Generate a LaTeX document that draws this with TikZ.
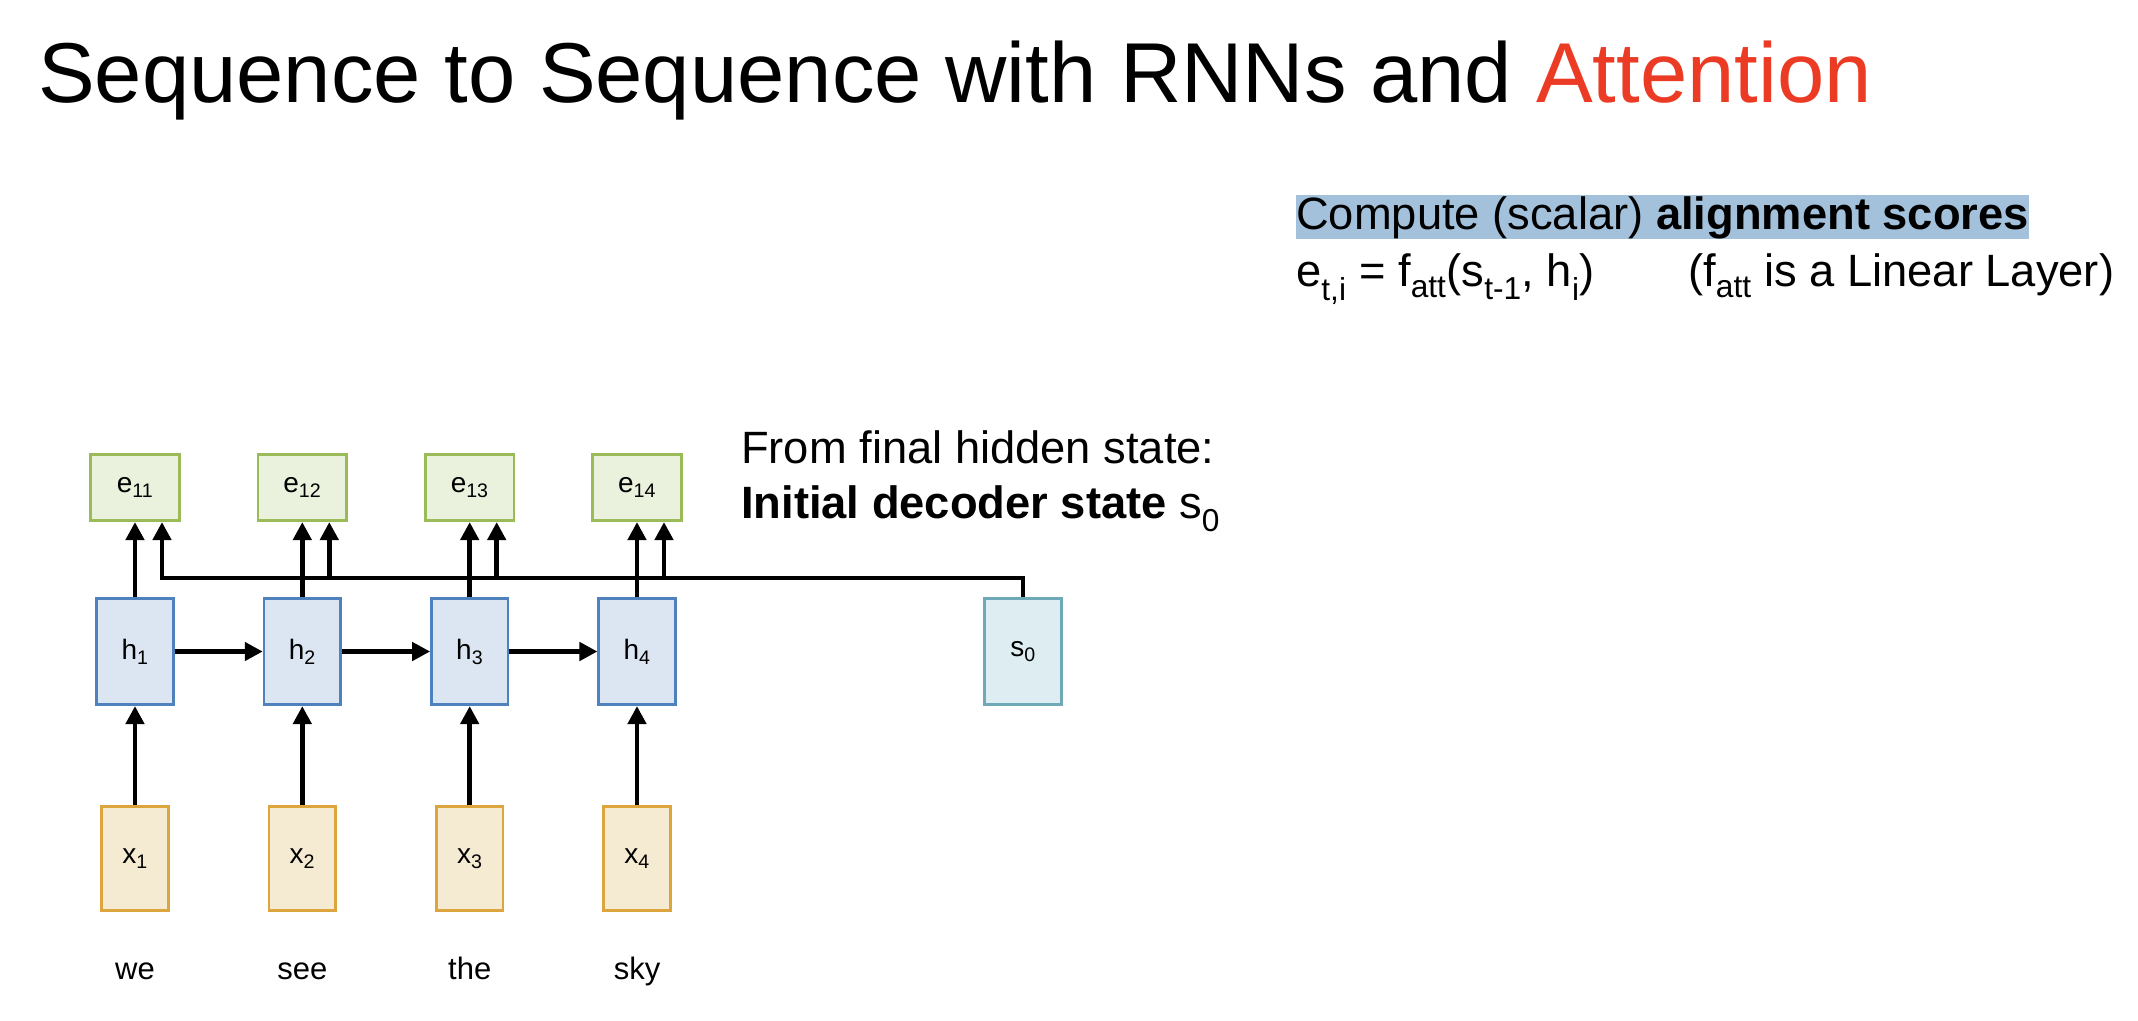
\documentclass[tikz,border=0pt]{standalone}
\usepackage{fontspec}
\setmainfont{Liberation Sans}
\usetikzlibrary{arrows.meta}

\definecolor{egreen}{HTML}{9BBB59}
\definecolor{efill}{HTML}{EAF1DD}
\definecolor{hblue}{HTML}{4F81BD}
\definecolor{hfill}{HTML}{DCE6F2}
\definecolor{steal}{HTML}{6FA9B8}
\definecolor{sfill}{HTML}{DDEDF2}
\definecolor{xgold}{HTML}{DDA53D}
\definecolor{xfill}{HTML}{F5EBD3}
\definecolor{hilite}{HTML}{A3C1DB}
\definecolor{attred}{HTML}{EB3B24}

\newcommand\lsub[1]{\textsubscript{#1}}

\begin{document}
\begin{tikzpicture}[x=1pt,y=-1pt,
  box/.style={draw, line width=2.6pt, inner sep=0pt, font=\fontsize{28}{33}\selectfont},
  ebox/.style={box, draw=egreen, fill=efill, minimum width=88.5pt, minimum height=66.5pt},
  hbox/.style={box, draw=hblue, fill=hfill, minimum width=76.5pt, minimum height=106.5pt},
  sbox/.style={box, draw=steal, fill=sfill, minimum width=76.5pt, minimum height=106.5pt},
  xbox/.style={box, draw=xgold, fill=xfill, minimum width=66.5pt, minimum height=104.5pt},
  arr/.style={line width=4.8pt, -{Triangle[length=18pt,width=18pt]}},
  word/.style={anchor=base, inner sep=0pt, font=\fontsize{31}{36}\selectfont},
  txt/.style={anchor=base west, inner sep=0pt, font=\fontsize{45.3}{54}\selectfont}]

% page
\fill[white] (0,0) rectangle (2138,1020);
\useasboundingbox (0,0) rectangle (2138,1020);

% heading
\node[anchor=base west, inner sep=0pt, font=\fontsize{85}{100}\selectfont] (title) at (38,102)
  {Sequence to Sequence with RNNs and \textcolor{attred}{Attention}};

% alignment score definition
\node[txt, fill=hilite, inner ysep=2pt, text height=32pt, text depth=8pt] (score) at (1296,229)
  {Compute (scalar) \textbf{alignment scores}};
\node[txt] (eq) at (1296,286) {e\lsub{t,i} = f\lsub{att}(s\lsub{t-1}, h\lsub{i})};
\node[txt] (fatt) at (1688,286) {(f\lsub{att} is a Linear Layer)};

% decoder initial state note
\node[txt] (from) at (741,463) {From final hidden state:};
\node[txt] (init) at (741,518) {\textbf{Initial decoder state} s\lsub{0}};

% encoder columns
\foreach \i/\xx/\w in {1/135/we, 2/302.3/see, 3/469.7/the, 4/637/sky} {
  \node[ebox] (e\i) at (\xx,487.5) {e\lsub{1\i}};
  \node[hbox] (h\i) at (\xx,651.5) {h\lsub{\i}};
  \node[xbox] (x\i) at (\xx,858.5) {x\lsub{\i}};
  \node[word] (w\i) at (\xx,979) {\w};
  \coordinate (j\i) at (\xx+27,578);
}

% decoder state
\node[sbox] (s0) at (1023,651.5) {s\lsub{0}};

% connections
\foreach \i in {1,...,4} {
  \draw[arr] (x\i) -- (h\i);
  \draw[arr] (h\i) -- (e\i);
}
\foreach \i/\k in {1/2, 2/3, 3/4} {
  \draw[arr] (h\i) -- (h\k);
}
\draw[arr] (s0.north) |- (j1) -- (j1 |- e1.south);
\foreach \i in {2,3,4} {
  \draw[arr] (j\i) -- (j\i |- e\i.south);
}
\end{tikzpicture}
\end{document}
